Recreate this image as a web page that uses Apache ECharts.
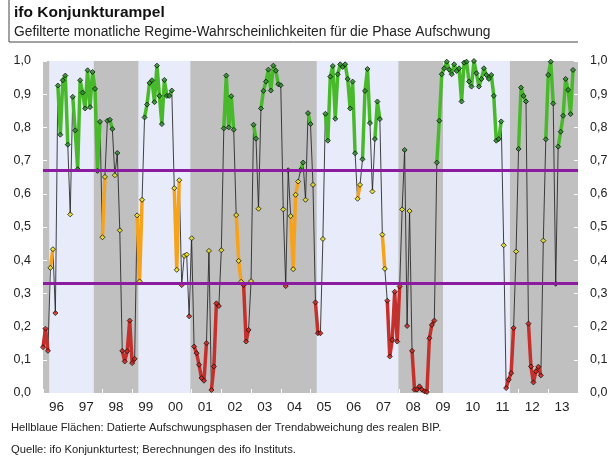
<!DOCTYPE html>
<html>
<head>
<meta charset="utf-8">
<script src="https://cdn.jsdelivr.net/npm/echarts@6/dist/echarts.min.js"></script>
<style>
  html, body { margin: 0; padding: 0; background: #fff; }
  #chart { width: 616px; height: 459px; }
</style>
</head>
<body>
<div id="chart"></div>
<script>
// monthly regime probabilities (Jan..Dec)
var y1996 = [0.138, 0.194, 0.127, 0.377, 0.433, 0.241, 0.926, 0.778, 0.942, 0.956, 0.748, 0.538];
var y1997 = [0.892, 0.791, 0.674, 0.942, 0.905, 0.857, 0.972, 0.861, 0.967, 0.916, 0.669, 0.817];
var y1998 = [0.469, 0.651, 0.820, 0.823, 0.795, 0.656, 0.723, 0.490, 0.127, 0.095, 0.126, 0.218];
var y1999 = [0.090, 0.103, 0.535, 0.336, 0.582, 0.830, 0.869, 0.934, 0.942, 0.876, 0.986, 0.895];
var y2000 = [0.810, 0.943, 0.895, 0.895, 0.911, 0.617, 0.371, 0.641, 0.325, 0.413, 0.417, 0.231];
var y2001 = [0.466, 0.140, 0.120, 0.085, 0.045, 0.037, 0.150, 0.428, 0.009, 0.080, 0.270, 0.262];
var y2002 = [0.430, 0.797, 0.956, 0.800, 0.894, 0.793, 0.536, 0.398, 0.335, 0.325, 0.155, 0.190];
var y2003 = [0.337, 0.808, 0.766, 0.555, 0.857, 0.910, 0.938, 0.974, 0.911, 0.986, 0.971, 0.930];
var y2004 = [0.927, 0.553, 0.322, 0.671, 0.533, 0.373, 0.597, 0.637, 0.672, 0.694, 0.582, 0.843];
var y2005 = [0.810, 0.627, 0.273, 0.180, 0.180, 0.464, 0.841, 0.760, 0.953, 0.985, 0.826, 0.960];
var y2006 = [0.990, 0.982, 0.990, 0.946, 0.857, 0.938, 0.722, 0.585, 0.627, 0.704, 0.910, 0.976];
var y2007 = [0.813, 0.607, 0.765, 0.878, 0.825, 0.477, 0.374, 0.278, 0.110, 0.160, 0.305, 0.155];
var y2008 = [0.321, 0.553, 0.732, 0.202, 0.548, 0.127, 0.010, 0.010, 0.020, 0.010, 0.005, 0.003];
var y2009 = [0.165, 0.205, 0.218, 0.694, 0.820, 0.960, 0.978, 0.998, 0.974, 0.960, 0.990, 0.970];
var y2010 = [0.978, 0.878, 0.995, 0.998, 0.938, 0.923, 1.000, 0.963, 0.923, 0.946, 0.978, 0.958];
var y2011 = [0.946, 0.958, 0.895, 0.760, 0.765, 0.818, 0.445, 0.015, 0.040, 0.060, 0.196, 0.426];
var y2012 = [0.735, 0.920, 0.895, 0.878, 0.209, 0.080, 0.032, 0.065, 0.079, 0.053, 0.459, 0.764];
var y2013 = [0.958, 0.998, 0.872, 0.329, 0.742, 0.787, 0.835, 0.946, 0.913, 0.840, 0.973];

var yearLabels = ['96', '97', '98', '99', '00', '01', '02', '03', '04', '05', '06', '07', '08', '09', '10', '11', '12', '13'];

// dated upswing phases (light blue), month index counted from Jan 1996
var upswingStart = [2.5, 38.5, 110.5, 161.5];
var upswingEnd = [20.5, 59.5, 143.5, 188.5];

var lower = 1 / 3, upper = 2 / 3;

var values = [].concat(y1996, y1997, y1998, y1999, y2000, y2001, y2002, y2003, y2004,
  y2005, y2006, y2007, y2008, y2009, y2010, y2011, y2012, y2013);
var n = values.length;

function zone(v) {
  return v >= upper ? 2 : (v >= lower ? 1 : 0);
}

var segColors = ['#c4302b', '#f7a21b', '#47b92b'];
var dotColors = ['#d8261f', '#f4ec1c', '#2a8f2a'];

// thick coloured pieces only where two neighbouring months are in the same zone
var segData = [[], [], []];
for (var z = 0; z < 3; z++) {
  for (var i = 0; i < n; i++) {
    var same = zone(values[i]) === z &&
      ((i > 0 && zone(values[i - 1]) === z) || (i < n - 1 && zone(values[i + 1]) === z));
    segData[z].push([i, same ? values[i] : '-']);
  }
}

var lineData = values.map(function (v, i) { return [i, v]; });
var dotData = values.map(function (v, i) {
  return { value: [i, v], itemStyle: { color: dotColors[zone(v)] } };
});

var bands = upswingStart.map(function (s, k) {
  return [{ xAxis: s }, { xAxis: upswingEnd[k] }];
});

var yearTicks = [], labelPos = [];
for (var k = 0; k <= yearLabels.length; k++) {
  yearTicks.push(k * 12);
  if (k < yearLabels.length) labelPos.push(k * 12 + 5.5);
}

var font = 'Liberation Sans, Arial, sans-serif';

function yFmt(v) {
  return v.toFixed(1).replace('.', ',');
}

var yAxisBase = {
  type: 'value', min: 0, max: 1, interval: 0.1,
  axisLine: { show: false },
  splitLine: { show: false },
  axisTick: { show: true, inside: true, length: 4, lineStyle: { color: '#fff' } },
  axisLabel: { formatter: yFmt, fontFamily: font, fontSize: 12.5, color: '#222', margin: 12 }
};

var chart = echarts.init(document.getElementById('chart'));
chart.setOption({
  animation: false,
  grid: {
    left: 43, right: 38, top: 61, bottom: 66,
    show: true, backgroundColor: '#c0c0c0', borderWidth: 0
  },
  xAxis: {
    type: 'value', min: 0, max: 216,
    axisLine: { show: false },
    splitLine: { show: false },
    axisTick: { show: true, inside: true, length: 4, customValues: yearTicks, lineStyle: { color: '#fff' } },
    axisLabel: {
      customValues: labelPos,
      formatter: function (v) { return yearLabels[Math.floor(v / 12)]; },
      fontFamily: font, fontSize: 13.5, color: '#222', margin: 7
    }
  },
  yAxis: [
    Object.assign({ position: 'left' }, yAxisBase),
    Object.assign({ position: 'right' }, yAxisBase)
  ],
  graphic: [
    { type: 'polyline', shape: { points: [[9, 0], [9, 42], [578, 42]] },
      style: { stroke: '#444', lineWidth: 1, fill: null } },
    { type: 'text', left: 14, top: 5,
      style: { text: 'ifo Konjunkturampel', font: 'bold 15.5px ' + font, fill: '#111' } },
    { type: 'text', left: 14, top: 25,
      style: { text: 'Gefilterte monatliche Regime-Wahrscheinlichkeiten für die Phase Aufschwung', font: '13.8px ' + font, fill: '#222' } },
    { type: 'text', left: 11, top: 422,
      style: { text: 'Hellblaue Flächen: Datierte Aufschwungsphasen der Trendabweichung des realen BIP.', font: '11.2px ' + font, fill: '#222' } },
    { type: 'text', left: 11, top: 444,
      style: { text: 'Quelle: ifo Konjunkturtest; Berechnungen des ifo Instituts.', font: '11.2px ' + font, fill: '#222' } }
  ],
  series: [
    {
      type: 'line', data: [], z: 1,
      markArea: { silent: true, itemStyle: { color: '#e8ecfa', borderWidth: 0 }, data: bands }
    },
    {
      type: 'line', data: lineData, z: 2, symbol: 'none',
      lineStyle: { color: '#222', width: 1, opacity: 0.85 },
      markLine: {
        silent: true, symbol: 'none', label: { show: false },
        lineStyle: { color: '#8b1c9f', width: 3, type: 'solid' },
        data: [{ yAxis: upper }, { yAxis: lower }]
      }
    },
    { type: 'line', data: segData[0], z: 3, symbol: 'none', lineStyle: { color: segColors[0], width: 3.5 } },
    { type: 'line', data: segData[1], z: 3, symbol: 'none', lineStyle: { color: segColors[1], width: 3.5 } },
    { type: 'line', data: segData[2], z: 3, symbol: 'none', lineStyle: { color: segColors[2], width: 3.5 } },
    {
      type: 'scatter', data: dotData, z: 4, symbol: 'diamond', symbolSize: 5,
      itemStyle: { borderColor: '#111', borderWidth: 1 }
    }
  ]
});
</script>
</body>
</html>
